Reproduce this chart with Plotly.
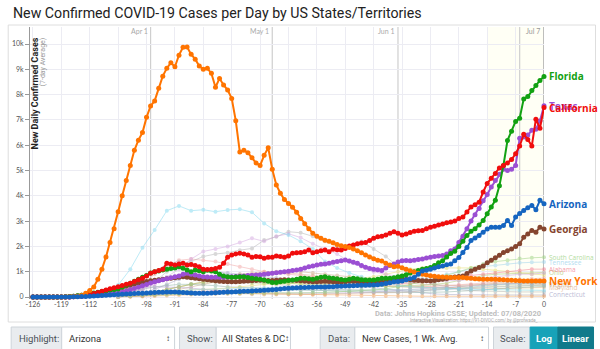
import plotly.graph_objects as go

# ---------------- data (7-day avg of new daily cases, by "days ago") ----------------
MAIN_START = -126
NY_START = -124

california = [0,0,0,0,0,0,0,0,0,0, 10,20,30,60,
    100,140,180,230,280,330,370,410,450,500,
    540,610,680,740,830,940,1000,1050,1100,1330,
    1300,1260,1300,1330,1260,1280,1250,1200,1100,1090,
    1100,1130,1180,1330,1570,1660,1700,1730,1700,1660,
    1570,1600,1590,1530,1570,1570,1620,1600,1570,1620,
    1730,1750,1760,1790,1860,1750,1790,1830,1860,1790,
    1890,1870,1860,1920,2020,2060,2100,2130,2150,2230,
    2320,2380,2400,2450,2520,2580,2520,2450,2490,2550,
    2600,2620,2630,2700,2760,2800,2850,2890,2930,2960,
    3000,3100,3160,3360,3560,3650,3750,4150,4490,4690,
    4880,5100,5200,5300,5430,5660,5970,6430,6230,5970,
    7030,6670,7490]

florida = [0,0,0,0,0,0,0,0,10,20, 30,50,70,100,
    130,160,190,220,250,280,300,320,400,470,
    540,620,700,780,850,950,1000,1030,1070,1100,
    1130,1150,1200,1140,1070,1000,1070,1040,1000,1060,
    1030,1000,900,830,800,780,790,800,800,770,
    740,720,700,670,620,570,570,600,620,650,
    670,700,740,740,720,700,740,780,800,760,
    740,720,690,670,700,740,720,680,670,670,
    670,700,740,740,740,760,800,830,880,950,
    1000,1050,1100,1130,1170,1250,1350,1430,1580,1720,
    1810,2000,2200,2430,2600,2700,2850,3020,3290,3560,
    3820,4400,5200,6190,6550,6940,7070,7830,7920,8160,
    8360,8560,8720]

texas = [0,0,0,0,0,0,0,0,0,0, 10,20,30,40,
    50,60,70,80,100,120,140,170,200,240,
    290,340,390,440,490,550,600,640,680,720,
    760,800,830,900,940,900,870,830,800,790,
    780,780,780,780,790,800,810,820,830,850,
    860,870,880,900,920,940,960,980,1000,1020,
    1050,1070,1100,1150,1200,1230,1260,1290,1300,1330,
    1370,1400,1430,1460,1420,1370,1330,1250,1180,1130,
    1100,1080,1050,1150,1250,1300,1380,1430,1440,1430,
    1450,1480,1500,1540,1570,1600,1620,1640,1700,1830,
    1900,2150,2400,2700,3000,3250,3500,3800,4050,4350,
    4600,4850,5050,5000,5050,5200,6270,6320,6400,6590,
    6630,6960,7560]

arizona = [0,0,0,0,0,0,0,0,0,0, 5,10,15,20,
    30,40,50,60,70,80,90,100,110,120,
    130,140,150,150,160,170,180,190,190,200,
    200,200,190,180,170,160,150,150,150,150,
    160,170,180,190,200,200,210,220,230,230,
    240,250,260,270,280,290,300,320,340,350,
    360,370,380,380,390,390,400,400,400,410,
    410,420,420,430,440,440,450,460,460,470,
    470,480,500,530,560,600,610,630,680,720,
    770,900,1030,1060,1100,1150,1200,1230,1270,1300,
    1430,1560,1760,1960,2230,2330,2430,2560,2690,2760,
    2760,2760,2830,3020,2830,3160,3300,3420,3530,3620,
    3450,3820,3690]

georgia = [0,0,0,0,0,0,0,0,10,20, 30,50,70,90,
    110,140,170,200,230,260,300,340,380,420,
    460,500,540,580,610,640,660,680,700,720,
    740,760,780,800,780,760,740,720,700,680,
    660,640,620,610,600,600,600,610,620,630,
    640,650,660,660,650,650,660,670,680,670,
    660,650,640,620,610,600,600,610,620,610,
    600,590,590,600,620,610,600,580,560,550,
    560,570,590,620,650,680,690,700,700,680,
    660,650,640,640,630,650,680,700,730,770,
    790,810,830,930,1030,1100,1170,1230,1350,1450,
    1550,1650,1760,1830,1900,2000,2100,2360,2490,2630,
    2560,2760,2690]

new_york = [0,0,0,0,0,0,0,10,15,30,
    60,150,260,400,700,1100,1580,2150,2700,3370,
    4000,4600,5200,5800,6200,6500,7100,7550,7750,8250,
    8730,9040,9260,9100,9560,9870,9880,9590,9400,9130,
    9000,9040,8840,8290,8640,8380,8180,7850,6970,5730,
    5800,5700,5500,5300,5200,5600,5900,5050,4430,4100,
    3850,3700,3550,3350,3100,2900,2700,2520,2400,2320,
    2240,2200,2140,2080,2030,2000,1960,1900,1830,1750,
    1660,1580,1510,1450,1420,1330,1260,1200,1220,1160,
    1100,1040,990,940,900,870,840,820,800,790,
    780,770,770,770,770,750,740,720,710,700,
    700,700,700,690,680,670,660,650,640,630,
    630,630,630,630,630]

# faint (non-highlighted) states, sampled every 3 days
FAINT_DAYS = list(range(-105, 1, 3))
new_jersey = [470,1100,1950,2650,3410,3600,3410,3450,3370,3440,3470,3350,2910,2600,2450,2200,1900,1400,
              1150,950,800,650,550,450,400,380,350,330,320,310,300,290,280,270,260,260]
illinois = [50,150,300,500,800,1100,1500,1800,1900,2000,2150,2320,2200,2400,2500,2350,2100,1900,
            1700,1400,1200,1000,900,800,700,650,650,640,650,700,750,800,850,900,900,950]
massachusetts = [30,100,300,600,1000,1300,1400,1600,1700,1750,1850,1920,2250,2380,2580,2540,2400,2200,
                 2000,2000,2190,1900,1600,1200,900,700,500,400,300,250,230,220,210,200,200,200]
pennsylvania = [50,200,500,900,1200,1450,1500,1450,1400,1300,1200,1100,1000,950,900,850,800,700,
                650,600,550,500,450,420,400,400,420,450,480,500,550,600,650,700,720,750]
michigan = [100,300,700,1000,1300,1400,1300,1100,1000,900,800,700,600,500,450,400,350,300,
            300,280,250,230,220,220,230,250,280,300,320,350,380,400,420,450,470,480]
south_carolina = [20,40,60,80,100,120,130,140,150,150,150,150,150,150,150,160,170,180,
                  200,220,250,280,320,400,500,600,700,850,1000,1150,1300,1400,1450,1520,1550,1570]
tennessee = [20,50,100,150,200,250,280,300,320,330,340,350,360,370,380,400,420,430,
             450,480,500,520,550,580,620,700,800,900,1000,1100,1200,1250,1300,1350,1370,1380]
alabama = [10,30,60,100,150,180,200,220,230,240,250,260,280,300,320,340,360,380,
           400,420,450,480,500,520,550,600,650,700,800,850,900,950,1000,1050,1100,1100]
ohio = [10,50,100,200,300,400,500,600,650,650,600,550,550,550,550,500,500,480,
        460,440,420,420,420,420,430,450,500,550,650,750,850,900,920,950,970,970]
north_carolina = [10,40,80,120,200,250,280,300,320,350,400,450,500,500,520,550,600,650,
                  700,750,750,800,900,1000,1100,1150,1150,1150,1150,1150,1100,1050,1000,950,900,870]
washington = [300,350,380,400,400,380,350,300,250,220,200,180,170,160,150,150,140,140,
              150,160,180,200,230,260,300,330,360,390,420,450,480,500,520,540,550,560]
maryland = [10,50,100,200,300,400,500,600,700,800,900,950,1000,1000,950,900,850,800,
            750,700,650,600,550,500,450,400,380,360,340,330,320,330,340,350,360,380]
virginia = [10,30,60,100,200,300,400,500,600,700,800,850,900,950,1000,1000,950,900,
            850,800,750,700,650,600,550,500,480,460,450,480,500,520,530,520,510,500]
colorado = [100,200,300,400,450,500,500,480,450,400,380,360,340,320,300,280,260,240,
            220,200,190,180,170,170,170,180,190,200,220,250,280,320,350,380,400,420]
connecticut = [10,50,150,300,500,700,900,1000,1000,950,900,850,800,750,700,650,600,550,
               500,450,400,350,300,250,200,150,120,100,90,80,80,80,80,80,80,80]
indiana = [10,50,100,200,300,400,500,550,600,600,600,620,650,630,600,580,560,540,
           520,500,480,450,420,400,380,360,350,340,350,380,400,420,430,440,450,460]
nevada = [10,30,60,90,120,140,150,150,140,130,120,110,100,100,100,100,110,120,
          130,140,150,160,170,180,200,250,300,350,400,450,500,550,600,620,640,650]
mississippi = [5,20,50,80,120,150,180,200,220,240,260,270,280,280,270,260,250,260,
               270,280,290,300,300,290,280,270,280,300,350,400,450,480,500,520,540,550]
dc = [5,10,20,40,60,80,100,120,130,140,150,140,130,120,110,100,90,80,
      70,60,50,45,40,35,30,30,30,30,30,30,30,30,30,30,30,30]

Y_TICKS = list(range(0, 10001, 1000))
Y_TICKTEXT = ["0"] + [f"{k}k" for k in range(1, 11)]
X_TICKS = list(range(-126, 1, 7))
MONTH_DAYS = [-97, -67, -36, -6]
MONTH_LABELS = ["Apr 1", "May 1", "Jun 1", ""]
TODAY_LABEL = "Jul 7"
LABELLED_FAINT = ["South Carolina", "Tennessee", "Alabama", "Ohio", "Virginia", "Maryland", "Connecticut"]

# ---------------- geometry helpers (pixel -> paper) ----------------
L, R, T, B = 25, 544, 27, 299
def px(x):
    return (x - L) / (R - L)
def py(y):
    return (B - y) / (B - T)

fig = go.Figure()

faint = [
    ("Connecticut", connecticut, "#a7a7c9"), ("Maryland", maryland, "#e3b38f"),
    ("Virginia", virginia, "#c7a783"), ("Indiana", indiana, "#c6c38c"),
    ("Colorado", colorado, "#8fb5a6"), ("Washington", washington, "#b5a0d0"),
    ("Nevada", nevada, "#d2ae9b"), ("Mississippi", mississippi, "#9cc4c4"),
    ("District of Columbia", dc, "#f5a35a"),
    ("Michigan", michigan, "#a9bacb"), ("Pennsylvania", pennsylvania, "#f2a3a3"),
    ("North Carolina", north_carolina, "#e6dc6a"), ("Ohio", ohio, "#a9c96b"),
    ("Alabama", alabama, "#f27a8e"), ("Tennessee", tennessee, "#9bd3ec"),
    ("South Carolina", south_carolina, "#9bd27e"),
    ("Massachusetts", massachusetts, "#b3b3b3"), ("Illinois", illinois, "#d4a6e0"),
    ("New Jersey", new_jersey, "#7fd9f0"),
]
for name, vals, col in faint:
    fig.add_trace(go.Scatter(x=FAINT_DAYS, y=vals, mode="lines+markers", name=name,
                             line=dict(color=col, width=1), marker=dict(size=4, color=col),
                             opacity=0.5, cliponaxis=False, hoverinfo="skip"))

def days(start, vals):
    return list(range(start, start + len(vals)))

main = [
    ("Georgia", MAIN_START, georgia, "#85452f"),
    ("Texas", MAIN_START, texas, "#9b4fd3"),
    ("Florida", MAIN_START, florida, "#12a112"),
    ("California", MAIN_START, california, "#f00d0d"),
    ("New York", NY_START, new_york, "#ff7400"),
    ("Arizona", MAIN_START, arizona, "#1565c0"),
]
for name, start, vals, col in main:
    fig.add_trace(go.Scatter(x=days(start, vals), y=vals, mode="lines+markers", name=name,
                             line=dict(color=col, width=2), marker=dict(size=5, color=col),
                             cliponaxis=False))

shapes = []
# chart container
shapes.append(dict(type="rect", xref="paper", yref="paper", x0=px(3), x1=px(596), y0=py(322), y1=py(25),
                   line=dict(color="#dedede", width=1), layer="below"))
# last-two-weeks tint
shapes.append(dict(type="rect", xref="x", yref="paper", x0=-14, x1=0, y0=0, y1=1,
                   fillcolor="rgba(255,255,200,0.18)", line=dict(width=0), layer="below"))
for d in MONTH_DAYS:
    shapes.append(dict(type="line", xref="x", yref="paper", x0=d, x1=d, y0=0, y1=1,
                       line=dict(color="#cfcfcf", width=1.2), layer="below"))
shapes.append(dict(type="line", xref="x", yref="paper", x0=0, x1=0, y0=0, y1=1,
                   line=dict(color="#a8a8a8", width=1.5), layer="below"))

annotations = []
annotations.append(dict(xref="paper", yref="paper", x=px(6), y=py(13), xanchor="left", yanchor="middle",
                        text="New Confirmed COVID-19 Cases per Day by US States/Territories",
                        showarrow=False, font=dict(family="Roboto", size=14.2, color="#222")))
for d, lab in zip(MONTH_DAYS, MONTH_LABELS):
    if lab:
        annotations.append(dict(xref="x", yref="paper", x=d, xshift=-1, y=py(31), xanchor="right",
                                yanchor="middle", text=lab, showarrow=False,
                                font=dict(family="Lato", size=7, color="#aaa")))
annotations.append(dict(xref="x", yref="paper", x=0, xshift=-2, y=py(31), xanchor="right", yanchor="middle",
                        text=TODAY_LABEL, showarrow=False, font=dict(family="Lato", size=7, color="#999")))
# y axis titles
annotations.append(dict(xref="paper", yref="paper", x=px(30.5), y=py(35), xanchor="center", yanchor="top",
                        textangle=-90, text="<b>New Daily Confirmed Cases</b>", showarrow=False,
                        font=dict(family="Roboto", size=9, color="#222")))
annotations.append(dict(xref="paper", yref="paper", x=px(38), y=py(35), xanchor="center", yanchor="top",
                        textangle=-90, text="(7-day Average)", showarrow=False,
                        font=dict(family="Roboto", size=7, color="#999")))
# end labels (faint, drawn first so highlighted labels sit on top)
for name, vals, col in faint:
    if name not in LABELLED_FAINT:
        continue
    annotations.append(dict(xref="x", yref="y", x=0, xshift=3, y=vals[-1], xanchor="left", yanchor="middle",
                            text=name, showarrow=False, opacity=0.75,
                            font=dict(family="Open Sans", size=6.5, color=col)))
# end labels (highlighted)
for name, start, vals, col in main:
    annotations.append(dict(xref="x", yref="y", x=0, xshift=3, y=vals[-1], xanchor="left", yanchor="middle",
                            text=f"<b>{name}</b>", showarrow=False,
                            font=dict(family="Open Sans", size=10, color=col)))
annotations.append(dict(xref="paper", yref="paper", x=px(543), y=py(313), xanchor="right", yanchor="middle",
                        text="<b>Data: Johns Hopkins CSSE; Updated: 07/08/2020</b>", showarrow=False,
                        font=dict(family="Roboto", size=7.5, color="#bdbdbd")))
annotations.append(dict(xref="paper", yref="paper", x=px(541), y=py(320), xanchor="right", yanchor="middle",
                        text="Interactive Visualization: https://91-DIVOC.com/ by @profwade_", showarrow=False,
                        font=dict(family="Roboto", size=4.5, color="#aaa")))

# control bar
def box(x0, x1, fill, border="#ced4da"):
    shapes.append(dict(type="rect", xref="paper", yref="paper", x0=px(x0), x1=px(x1), y0=py(352), y1=py(327),
                       fillcolor=fill, line=dict(color=border, width=1)))
def txt(x, s, color="#495057", anchor="left", bold=False, size=9.5):
    annotations.append(dict(xref="paper", yref="paper", x=px(x), y=py(338.5), xanchor=anchor, yanchor="middle",
                            text=f"<b>{s}</b>" if bold else s, showarrow=False,
                            font=dict(family="Roboto", size=size, color=color)))
box(6, 57, "#e9ecef"); txt(12, "Highlight:")
box(57, 171, "white"); txt(62, "Arizona", "#333"); txt(168, "↕", "#333", "right", size=8)
box(176, 213, "#e9ecef"); txt(182, "Show:")
box(213, 288, "white"); txt(217, "All States & DC", "#333"); txt(289, "↕", "#333", "right", size=8)
box(318, 353, "#e9ecef"); txt(324, "Data:")
box(353, 488, "white"); txt(358, "New Cases, 1 Wk. Avg.", "#333"); txt(485, "↕", "#333", "right", size=8)
box(493, 530, "#e9ecef"); txt(498, "Scale:")
box(530, 558, "#17a2b8", "#17a2b8"); txt(544, "Log", "white", "center", bold=True)
box(558, 594, "#117a8b", "#117a8b"); txt(576, "Linear", "white", "center", bold=True)

x_lo = -126 - (28 - L) * 126 / (544 - 28)
y_per_px = 1000 / 25.3
fig.update_layout(
    width=600, height=349, margin=dict(l=L, r=600 - R, t=T, b=349 - B),
    paper_bgcolor="white", plot_bgcolor="white", showlegend=False,
    shapes=shapes, annotations=annotations,
    xaxis=dict(range=[x_lo, 0], tickvals=X_TICKS, ticktext=[str(v) for v in X_TICKS],
               showgrid=True, gridcolor="#ececf3", gridwidth=1, zeroline=False, showline=False,
               ticks="", tickfont=dict(family="Lato", size=7, color="#555")),
    yaxis=dict(range=[-(B - 297) * y_per_px, (297 - T) * y_per_px], tickvals=Y_TICKS, ticktext=Y_TICKTEXT,
               showgrid=True, gridcolor="#ececf3", gridwidth=1, zeroline=False,
               showline=True, linecolor="#999", linewidth=1, ticks="outside", ticklen=4, tickcolor="#999",
               tickfont=dict(family="Lato", size=7, color="#555")),
)
fig.write_html("out.html")
